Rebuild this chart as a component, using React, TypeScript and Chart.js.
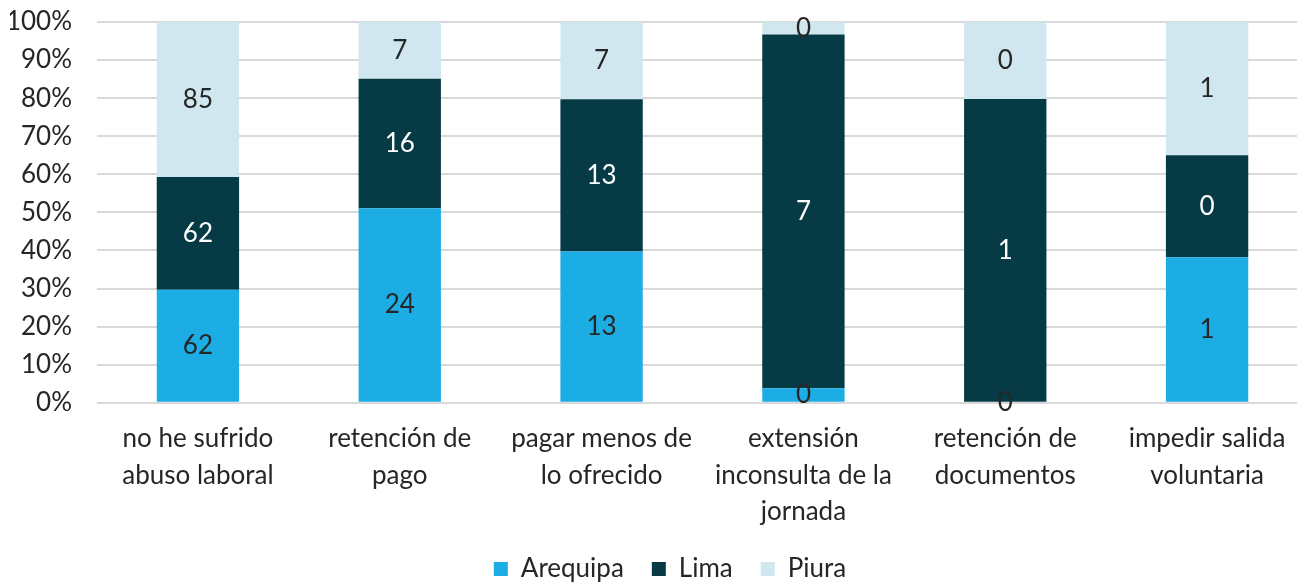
import React, { useEffect, useRef } from "react";
import { Chart, registerables } from "chart.js";

Chart.register(...registerables);

const categories: string[][] = [
  ["no he sufrido", "abuso laboral"],
  ["retención de", "pago"],
  ["pagar menos de", "lo ofrecido"],
  ["extensión", "inconsulta de la", "jornada"],
  ["retención de", "documentos"],
  ["impedir salida", "voluntaria"],
];

// bar heights (share of each category, %)
const arequipaPct = [29.7, 51.1, 39.7, 3.8, 0, 38.2];
const limaPct = [29.6, 34.0, 40.0, 92.9, 79.8, 26.8];
const piuraPct = [40.7, 14.9, 20.3, 3.3, 20.2, 35.0];

// data labels shown on the bars (counts)
const arequipaLabels = [62, 24, 13, 0, 0, 1];
const limaLabels = [62, 16, 13, 7, 1, 0];
const piuraLabels = [85, 7, 7, 0, 0, 1];

const yTicks = [0, 10, 20, 30, 40, 50, 60, 70, 80, 90, 100];

const FONT = "Lato, 'Open Sans', sans-serif";
const FS = 26;

export default function App() {
  const ref = useRef<HTMLCanvasElement | null>(null);

  useEffect(() => {
    if (!ref.current) return;
    const labelSets = [arequipaLabels, limaLabels, piuraLabels];
    const labelColors = ["#262626", "#FFFFFF", "#262626"];

    const valueLabels = {
      id: "valueLabels",
      beforeDraw(chart: any) {
        if (chart.legend) {
          chart.legend.left += 11;
          chart.legend.right += 11;
        }
      },
      afterDatasetsDraw(chart: any) {
        const ctx = chart.ctx;
        ctx.save();
        ctx.font = `${FS}px ${FONT}`;
        ctx.textAlign = "center";
        ctx.textBaseline = "middle";
        chart.data.datasets.forEach((ds: any, di: number) => {
          const meta = chart.getDatasetMeta(di);
          meta.data.forEach((el: any, i: number) => {
            const cy = (el.y + el.base) / 2;
            ctx.fillStyle = labelColors[di];
            ctx.fillText(String(labelSets[di][i]), el.x, cy);
          });
        });
        ctx.restore();
      },
    };

    const chart = new Chart(ref.current, {
      type: "bar",
      data: {
        labels: categories,
        datasets: [
          { label: "Arequipa", data: arequipaPct, backgroundColor: "#1CADE4" },
          { label: "Lima", data: limaPct, backgroundColor: "#063B45" },
          { label: "Piura", data: piuraPct, backgroundColor: "#D0E7EF" },
        ],
      },
      options: {
        responsive: false,
        animation: false,
        layout: { padding: { left: 10, right: 2, top: 22, bottom: -8 } },
        datasets: {
          bar: { barPercentage: 0.408, categoryPercentage: 1, borderWidth: 0 },
        },
        scales: {
          x: {
            stacked: true,
            grid: { display: false, drawTicks: false },
            border: { display: false },
            afterFit: (scale: any) => {
              scale.paddingLeft = 0;
              scale.paddingRight = 0;
              scale.height -= 20;
            },
            ticks: {
              color: "#262626",
              font: { family: FONT, size: FS, lineHeight: 1.4 },
              padding: 18,
              maxRotation: 0,
              autoSkip: false,
            },
          },
          y: {
            stacked: true,
            min: 0,
            max: 100,
            afterBuildTicks: (axis: any) => {
              axis.ticks = yTicks.map((v) => ({ value: v }));
            },
            afterFit: (scale: any) => {
              scale.paddingTop = 0;
              scale.paddingBottom = 0;
              scale.width = 87;
            },
            grid: { color: "#D9D9D9", lineWidth: 2, drawTicks: false },
            border: { display: false },
            ticks: {
              color: "#262626",
              font: { family: FONT, size: FS },
              padding: 25,
              callback: (v: any) => `${v}%`,
            },
          },
        },
        plugins: {
          legend: {
            position: "bottom",
            labels: {
              color: "#262626",
              font: { family: FONT, size: FS },
              boxWidth: 14,
              boxHeight: 14,
              padding: 28,
            },
          },
          tooltip: { enabled: false },
        },
      },
      plugins: [valueLabels],
    });
    return () => chart.destroy();
  }, []);

  return (
    <div
      style={{
        position: "fixed",
        left: 0,
        top: 0,
        width: 1297,
        height: 584,
        overflow: "hidden",
        background: "#fff",
      }}
    >
      <canvas ref={ref} width={1310} height={584} style={{ display: "block" }} />
    </div>
  );
}
